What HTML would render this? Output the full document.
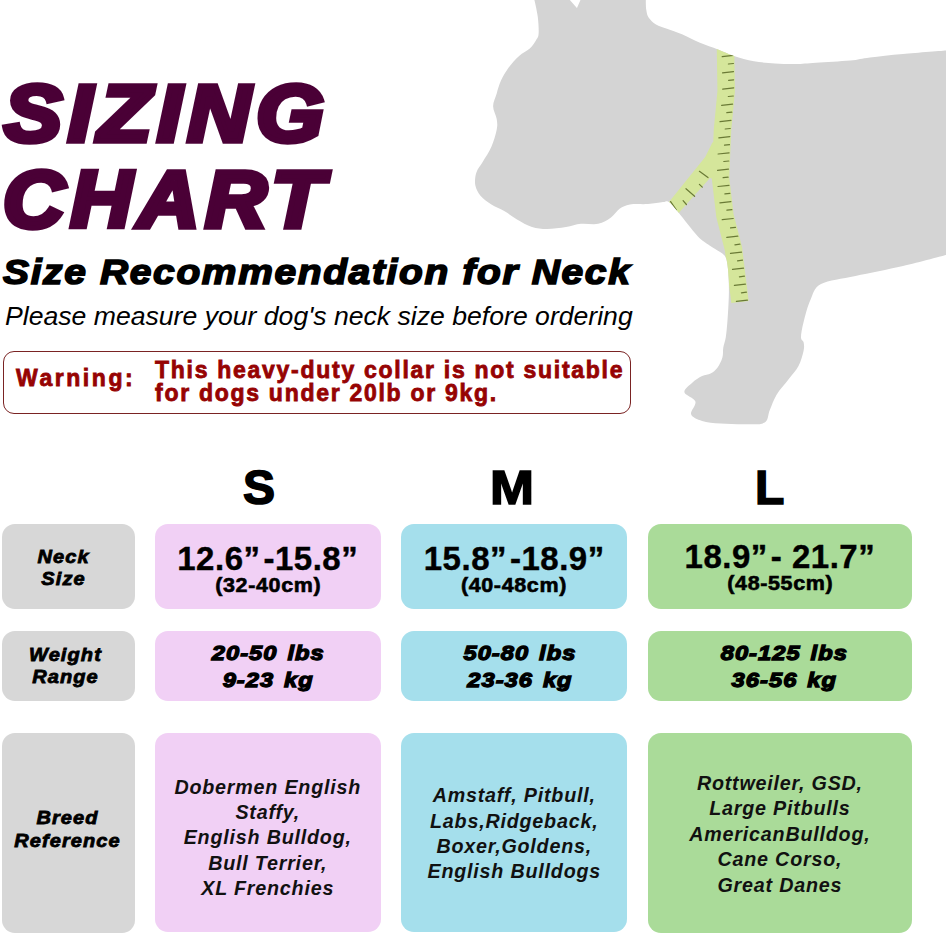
<!DOCTYPE html>
<html><head><meta charset="utf-8"><title>Sizing Chart</title>
<style>
html,body{margin:0;padding:0;background:#fff;}
body{width:946px;height:936px;position:relative;overflow:hidden;font-family:"Liberation Sans",sans-serif;color:#000;}
.a{position:absolute;white-space:nowrap;line-height:1;}
svg.dog{position:absolute;left:0;top:0;}
.title{font-weight:bold;font-style:italic;color:#4a0036;font-size:79px;-webkit-text-stroke:5.5px #4a0036;transform-origin:0 0;letter-spacing:5.5px;}
.sub{font-weight:bold;font-style:italic;font-size:35px;-webkit-text-stroke:1.6px #000;transform-origin:0 0;letter-spacing:1.5px;}
.please{font-style:italic;font-size:26.5px;transform-origin:0 0;}
.warnbox{position:absolute;left:3.2px;top:351.3px;width:628.3px;height:62.4px;border:1.4px solid #7a2323;border-radius:11px;box-sizing:border-box;}
.warn{font-weight:bold;color:#960303;font-size:23px;letter-spacing:2.55px;-webkit-text-stroke:0.8px #960303;}
.hd{font-weight:bold;font-size:48px;-webkit-text-stroke:1.6px #000;}
.box{position:absolute;border-radius:13px;}
.g{background:#d7d7d7;}
.p{background:#f1d0f5;}
.b{background:#a5dfec;}
.gr{background:#aadb99;}
.lab{position:absolute;left:-3px;width:100%;letter-spacing:1px;transform:scaleX(1.11);text-align:center;font-weight:bold;font-style:italic;font-size:18px;line-height:22.8px;-webkit-text-stroke:0.8px #000;}
.neck{position:absolute;left:0;width:100%;text-align:center;font-weight:bold;}
.neck .big{font-size:33px;line-height:33.5px;display:block;letter-spacing:0.5px;-webkit-text-stroke:0.4px #000;}
.neck .big i{font-style:normal;margin-right:3px;}
.neck .sm{font-size:20.3px;line-height:20.3px;display:block;letter-spacing:0.6px;-webkit-text-stroke:0.6px #000;transform:scaleX(1.06);}
.wt{position:absolute;left:0;width:100%;text-align:center;font-weight:bold;font-style:italic;font-size:20.8px;line-height:26.6px;-webkit-text-stroke:1.3px #000;letter-spacing:0.9px;word-spacing:2px;transform:scaleX(1.14);}
.br{position:absolute;left:0;width:100%;text-align:center;font-weight:bold;font-style:italic;font-size:19.7px;line-height:25.4px;color:#111;letter-spacing:0.8px;}
</style></head>
<body>
<svg class="dog" width="946" height="936" viewBox="0 0 946 936">
<defs><clipPath id="dc"><path d="M534.4,0.0 C534.4,0.0 569.8,0.0 569.8,0.0 C569.8,0.0 577.0,8.0 577.0,8.0 C577.0,8.0 580.5,0.0 580.5,0.0 C580.5,0.0 645.8,0.0 645.8,0.0 C645.8,0.0 645.8,7.1 646.3,10.0 C646.8,12.9 647.0,15.0 648.6,17.4 C650.2,19.8 652.9,22.6 656.0,24.5 C659.1,26.4 662.7,27.2 667.0,28.8 C671.3,30.4 676.5,32.0 682.0,34.3 C687.5,36.6 694.0,40.3 700.0,42.8 C706.0,45.3 712.3,47.3 718.0,49.5 C723.7,51.7 728.0,54.0 734.0,56.0 C740.0,58.0 747.2,60.1 754.0,61.3 C760.8,62.5 768.1,62.9 775.0,63.4 C781.9,63.9 788.8,64.1 795.6,64.0 C802.4,63.9 806.9,63.3 816.0,62.7 C825.1,62.1 841.0,61.5 850.0,60.6 C859.0,59.7 861.2,58.6 870.0,57.5 C878.8,56.4 890.3,55.1 903.0,54.0 C915.7,52.9 946.0,50.6 946.0,50.6 C946.0,50.6 946.0,255.0 946.0,255.0 C946.0,255.0 918.1,262.5 903.0,266.0 C887.9,269.5 869.2,273.0 855.5,276.0 C841.8,279.0 828.5,280.0 821.0,284.0 C813.5,288.0 813.3,293.7 810.4,300.0 C807.5,306.3 805.2,315.8 803.6,322.0 C802.0,328.2 801.0,333.8 801.0,337.2 C801.0,340.6 803.2,340.1 803.6,342.3 C804.0,344.6 804.5,346.8 803.6,350.7 C802.8,354.6 801.0,361.2 798.5,366.0 C796.0,370.8 792.0,374.7 788.4,379.5 C784.8,384.3 779.7,389.6 776.6,394.7 C773.5,399.8 771.8,405.4 769.8,410.0 C767.8,414.6 768.7,420.2 764.7,422.6 C760.7,425.0 753.3,424.2 746.0,424.3 C738.7,424.4 728.0,424.1 720.7,423.5 C713.4,422.9 707.0,422.4 702.1,420.9 C697.2,419.3 692.2,417.4 691.1,414.2 C690.0,411.0 696.5,405.2 695.4,401.5 C694.3,397.8 685.0,395.3 684.4,392.2 C683.8,389.1 689.0,385.6 692.0,382.9 C695.0,380.2 699.0,377.7 702.1,376.1 C705.2,374.6 708.1,375.0 710.6,373.6 C713.1,372.2 715.4,370.4 717.4,367.7 C719.4,365.0 721.4,360.9 722.4,357.5 C723.4,354.1 722.7,350.8 723.3,347.4 C723.9,344.0 725.1,341.7 725.8,337.2 C726.5,332.7 727.0,327.0 727.5,320.3 C728.0,313.6 728.6,303.2 728.8,297.0 C729.0,290.8 728.9,287.8 728.8,283.0 C728.6,278.2 728.4,272.8 727.9,268.5 C727.4,264.2 727.0,259.8 725.5,257.0 C724.0,254.2 721.9,253.4 719.2,251.5 C716.6,249.6 713.2,248.1 709.6,245.5 C706.0,242.9 702.7,241.5 697.5,236.0 C692.3,230.5 683.2,218.3 678.5,212.6 C673.8,206.9 671.6,203.8 669.0,202.0 C666.4,200.2 666.5,201.7 663.0,202.0 C659.5,202.3 653.5,203.6 648.0,204.0 C642.5,204.4 634.7,203.7 630.0,204.5 C625.3,205.3 622.8,206.7 619.6,208.8 C616.4,211.0 614.6,214.9 611.0,217.4 C607.4,219.9 603.2,222.7 598.2,223.8 C593.2,224.9 586.4,223.3 581.0,223.8 C575.6,224.3 571.7,226.1 566.0,227.0 C560.3,227.9 552.7,229.0 547.0,229.0 C541.3,229.0 537.0,228.6 532.0,227.0 C527.0,225.4 521.6,222.2 517.0,219.5 C512.4,216.8 508.5,213.5 504.2,211.0 C499.9,208.5 495.3,207.0 491.4,204.5 C487.5,202.0 483.4,199.2 480.7,196.0 C478.0,192.8 476.0,189.2 475.3,185.3 C474.6,181.4 475.1,176.4 476.4,172.5 C477.6,168.6 480.3,166.1 482.8,161.8 C485.3,157.5 489.1,152.2 491.4,146.8 C493.7,141.5 495.8,134.3 496.7,129.7 C497.6,125.1 497.3,122.9 496.7,119.0 C496.1,115.1 493.1,110.5 493.1,106.2 C493.1,101.9 495.4,97.7 496.7,93.4 C498.0,89.1 499.0,84.9 501.0,80.6 C503.0,76.3 505.5,71.9 508.5,67.8 C511.5,63.7 515.6,59.2 519.1,56.0 C522.6,52.8 526.9,51.2 529.8,48.5 C532.6,45.8 534.7,42.5 536.2,40.0 C537.7,37.5 538.3,37.6 538.6,33.8 C538.9,29.9 538.5,22.5 537.8,16.9 C537.1,11.3 534.4,0.0 534.4,0.0Z"/></clipPath></defs>
<path d="M534.4,0.0 C534.4,0.0 569.8,0.0 569.8,0.0 C569.8,0.0 577.0,8.0 577.0,8.0 C577.0,8.0 580.5,0.0 580.5,0.0 C580.5,0.0 645.8,0.0 645.8,0.0 C645.8,0.0 645.8,7.1 646.3,10.0 C646.8,12.9 647.0,15.0 648.6,17.4 C650.2,19.8 652.9,22.6 656.0,24.5 C659.1,26.4 662.7,27.2 667.0,28.8 C671.3,30.4 676.5,32.0 682.0,34.3 C687.5,36.6 694.0,40.3 700.0,42.8 C706.0,45.3 712.3,47.3 718.0,49.5 C723.7,51.7 728.0,54.0 734.0,56.0 C740.0,58.0 747.2,60.1 754.0,61.3 C760.8,62.5 768.1,62.9 775.0,63.4 C781.9,63.9 788.8,64.1 795.6,64.0 C802.4,63.9 806.9,63.3 816.0,62.7 C825.1,62.1 841.0,61.5 850.0,60.6 C859.0,59.7 861.2,58.6 870.0,57.5 C878.8,56.4 890.3,55.1 903.0,54.0 C915.7,52.9 946.0,50.6 946.0,50.6 C946.0,50.6 946.0,255.0 946.0,255.0 C946.0,255.0 918.1,262.5 903.0,266.0 C887.9,269.5 869.2,273.0 855.5,276.0 C841.8,279.0 828.5,280.0 821.0,284.0 C813.5,288.0 813.3,293.7 810.4,300.0 C807.5,306.3 805.2,315.8 803.6,322.0 C802.0,328.2 801.0,333.8 801.0,337.2 C801.0,340.6 803.2,340.1 803.6,342.3 C804.0,344.6 804.5,346.8 803.6,350.7 C802.8,354.6 801.0,361.2 798.5,366.0 C796.0,370.8 792.0,374.7 788.4,379.5 C784.8,384.3 779.7,389.6 776.6,394.7 C773.5,399.8 771.8,405.4 769.8,410.0 C767.8,414.6 768.7,420.2 764.7,422.6 C760.7,425.0 753.3,424.2 746.0,424.3 C738.7,424.4 728.0,424.1 720.7,423.5 C713.4,422.9 707.0,422.4 702.1,420.9 C697.2,419.3 692.2,417.4 691.1,414.2 C690.0,411.0 696.5,405.2 695.4,401.5 C694.3,397.8 685.0,395.3 684.4,392.2 C683.8,389.1 689.0,385.6 692.0,382.9 C695.0,380.2 699.0,377.7 702.1,376.1 C705.2,374.6 708.1,375.0 710.6,373.6 C713.1,372.2 715.4,370.4 717.4,367.7 C719.4,365.0 721.4,360.9 722.4,357.5 C723.4,354.1 722.7,350.8 723.3,347.4 C723.9,344.0 725.1,341.7 725.8,337.2 C726.5,332.7 727.0,327.0 727.5,320.3 C728.0,313.6 728.6,303.2 728.8,297.0 C729.0,290.8 728.9,287.8 728.8,283.0 C728.6,278.2 728.4,272.8 727.9,268.5 C727.4,264.2 727.0,259.8 725.5,257.0 C724.0,254.2 721.9,253.4 719.2,251.5 C716.6,249.6 713.2,248.1 709.6,245.5 C706.0,242.9 702.7,241.5 697.5,236.0 C692.3,230.5 683.2,218.3 678.5,212.6 C673.8,206.9 671.6,203.8 669.0,202.0 C666.4,200.2 666.5,201.7 663.0,202.0 C659.5,202.3 653.5,203.6 648.0,204.0 C642.5,204.4 634.7,203.7 630.0,204.5 C625.3,205.3 622.8,206.7 619.6,208.8 C616.4,211.0 614.6,214.9 611.0,217.4 C607.4,219.9 603.2,222.7 598.2,223.8 C593.2,224.9 586.4,223.3 581.0,223.8 C575.6,224.3 571.7,226.1 566.0,227.0 C560.3,227.9 552.7,229.0 547.0,229.0 C541.3,229.0 537.0,228.6 532.0,227.0 C527.0,225.4 521.6,222.2 517.0,219.5 C512.4,216.8 508.5,213.5 504.2,211.0 C499.9,208.5 495.3,207.0 491.4,204.5 C487.5,202.0 483.4,199.2 480.7,196.0 C478.0,192.8 476.0,189.2 475.3,185.3 C474.6,181.4 475.1,176.4 476.4,172.5 C477.6,168.6 480.3,166.1 482.8,161.8 C485.3,157.5 489.1,152.2 491.4,146.8 C493.7,141.5 495.8,134.3 496.7,129.7 C497.6,125.1 497.3,122.9 496.7,119.0 C496.1,115.1 493.1,110.5 493.1,106.2 C493.1,101.9 495.4,97.7 496.7,93.4 C498.0,89.1 499.0,84.9 501.0,80.6 C503.0,76.3 505.5,71.9 508.5,67.8 C511.5,63.7 515.6,59.2 519.1,56.0 C522.6,52.8 526.9,51.2 529.8,48.5 C532.6,45.8 534.7,42.5 536.2,40.0 C537.7,37.5 538.3,37.6 538.6,33.8 C538.9,29.9 538.5,22.5 537.8,16.9 C537.1,11.3 534.4,0.0 534.4,0.0Z" fill="#d4d4d4"/>
<g clip-path="url(#dc)">
<polyline points="725,40 725.5,48 726.2,91 722.5,130 720.5,178 725,216 733.5,249 740,302" fill="none" stroke="#d5e69b" stroke-width="17.5"/>
<polygon points="664,206 669.6,201.2 705.2,156.9 712.4,142.5 718,140 718,180 710,178 677.3,214.6 672,218" fill="#d5e69b"/>
<g stroke="#6a7a36" stroke-width="1.2" stroke-linecap="round"><line x1="733.2" y1="55.4" x2="722.2" y2="56.6"/><line x1="733.4" y1="63.5" x2="728.4" y2="64.0"/><line x1="733.5" y1="71.6" x2="722.5" y2="72.8"/><line x1="733.6" y1="79.8" x2="728.6" y2="80.3"/><line x1="733.7" y1="87.9" x2="722.7" y2="89.1"/><line x1="733.3" y1="96.0" x2="728.3" y2="96.5"/><line x1="732.6" y1="104.1" x2="721.6" y2="105.3"/><line x1="731.8" y1="112.2" x2="726.8" y2="112.7"/><line x1="731.0" y1="120.4" x2="720.0" y2="121.6"/><line x1="730.2" y1="128.5" x2="725.2" y2="129.0"/><line x1="729.8" y1="136.6" x2="718.8" y2="137.8"/><line x1="729.5" y1="144.7" x2="724.5" y2="145.2"/><line x1="729.1" y1="152.8" x2="718.1" y2="154.0"/><line x1="728.8" y1="161.0" x2="723.8" y2="161.5"/><line x1="728.5" y1="169.1" x2="717.5" y2="170.3"/><line x1="728.1" y1="177.2" x2="723.1" y2="177.7"/><line x1="729.0" y1="185.3" x2="718.0" y2="186.5"/><line x1="729.9" y1="193.4" x2="724.9" y2="193.9"/><line x1="730.9" y1="201.6" x2="719.9" y2="202.8"/><line x1="731.9" y1="209.7" x2="726.9" y2="210.2"/><line x1="733.2" y1="218.5" x2="722.2" y2="219.7"/><line x1="735.5" y1="227.4" x2="730.5" y2="227.9"/><line x1="737.8" y1="236.2" x2="726.8" y2="237.4"/><line x1="739.9" y1="244.2" x2="734.9" y2="244.8"/><line x1="741.5" y1="252.2" x2="730.5" y2="253.4"/><line x1="742.5" y1="260.2" x2="737.5" y2="260.8"/><line x1="743.5" y1="268.2" x2="732.5" y2="269.4"/><line x1="744.4" y1="276.2" x2="739.4" y2="276.8"/><line x1="745.4" y1="284.2" x2="734.4" y2="285.4"/><line x1="746.4" y1="292.2" x2="741.4" y2="292.8"/><line x1="747.4" y1="300.2" x2="736.4" y2="301.4"/><line x1="670.6" y1="201.6" x2="676.3" y2="209.8"/><line x1="683.1" y1="200.7" x2="686.4" y2="204.5"/><line x1="686.0" y1="188.7" x2="694.6" y2="196.3"/><line x1="699.4" y1="184.3" x2="702.3" y2="187.2"/><line x1="699.4" y1="171.3" x2="708.0" y2="177.6"/></g>
</g>
</svg>

<div class="a title" id="t1" style="left:4px;top:73.5px;transform:scaleX(1.1);">SIZING</div>
<div class="a title" id="t2" style="left:3px;top:160.3px;transform:scaleX(1.078);">CHART</div>
<div class="a sub" id="t3" style="left:3px;top:254.3px;transform:scaleX(1.112);">Size Recommendation for Neck</div>
<div class="a please" id="t4" style="left:5px;top:303px;transform:scaleX(1.004);">Please measure your dog's neck size before ordering</div>

<div class="warnbox"></div>
<div class="a warn" id="w1" style="left:16px;top:367.3px;">Warning:</div>
<div class="a warn" id="w2" style="left:155px;line-height:22.8px;top:359px;letter-spacing:1.72px;">This heavy-duty collar is not suitable<br>for dogs under 20lb or 9kg.</div>

<div class="a hd" id="hS" style="left:243px;top:464.2px;">S</div>
<div class="a hd" id="hM" style="left:490px;top:464.2px;transform:scaleX(1.1);transform-origin:0 0;">M</div>
<div class="a hd" id="hL" style="left:755px;top:464.2px;">L</div>

<!-- row 1 -->
<div class="box g" style="left:2px;top:523.5px;width:133px;height:85px;"><div class="lab" style="top:22.2px;left:-5px;">Neck<br>Size</div></div>
<div class="box p" style="left:154.5px;top:523.5px;width:226.5px;height:85px;"><div class="neck" style="top:18px;"><span class="big">12.6<i>&rdquo;</i>-15.8&rdquo;</span><span class="sm">(32-40cm)</span></div></div>
<div class="box b" style="left:401.3px;top:523.5px;width:225.9px;height:85px;"><div class="neck" style="top:18px;"><span class="big">15.8<i>&rdquo;</i>-18.9&rdquo;</span><span class="sm">(40-48cm)</span></div></div>
<div class="box gr" style="left:647.6px;top:523.5px;width:264.6px;height:85px;"><div class="neck" style="top:16px;"><span class="big">18.9<i>&rdquo;</i>- 21.7&rdquo;</span><span class="sm">(48-55cm)</span></div></div>

<!-- row 2 -->
<div class="box g" style="left:2px;top:631.4px;width:133px;height:69.3px;"><div class="lab" style="top:12.6px;line-height:22.1px;">Weight<br>Range</div></div>
<div class="box p" style="left:154.5px;top:631.4px;width:226.5px;height:69.3px;"><div class="wt" style="top:8.7px;">20-50 lbs<br>9-23 kg</div></div>
<div class="box b" style="left:401.3px;top:631.4px;width:225.9px;height:69.3px;"><div class="wt" style="top:8.7px;left:6px;">50-80 lbs<br>23-36 kg</div></div>
<div class="box gr" style="left:647.6px;top:631.4px;width:264.6px;height:69.3px;"><div class="wt" style="top:8.7px;left:4px;">80-125 lbs<br>36-56 kg</div></div>

<!-- row 3 -->
<div class="box g" style="left:2px;top:732.5px;width:133px;height:200.5px;"><div class="lab" style="top:74.8px;left:-1px;">Breed<br>Reference</div></div>
<div class="box p" style="left:154.5px;top:732.5px;width:226.5px;height:199.5px;"><div class="br" style="top:42px;">Dobermen English<br>Staffy,<br>English Bulldog,<br>Bull Terrier,<br>XL Frenchies</div></div>
<div class="box b" style="left:401.3px;top:732.5px;width:225.9px;height:199.5px;"><div class="br" style="top:50.6px;">Amstaff, Pitbull,<br>Labs,Ridgeback,<br>Boxer,Goldens,<br>English Bulldogs</div></div>
<div class="box gr" style="left:647.6px;top:732.5px;width:264.6px;height:200px;"><div class="br" style="top:38.4px;">Rottweiler, GSD,<br>Large Pitbulls<br>AmericanBulldog,<br>Cane Corso,<br>Great Danes</div></div>
</body></html>
